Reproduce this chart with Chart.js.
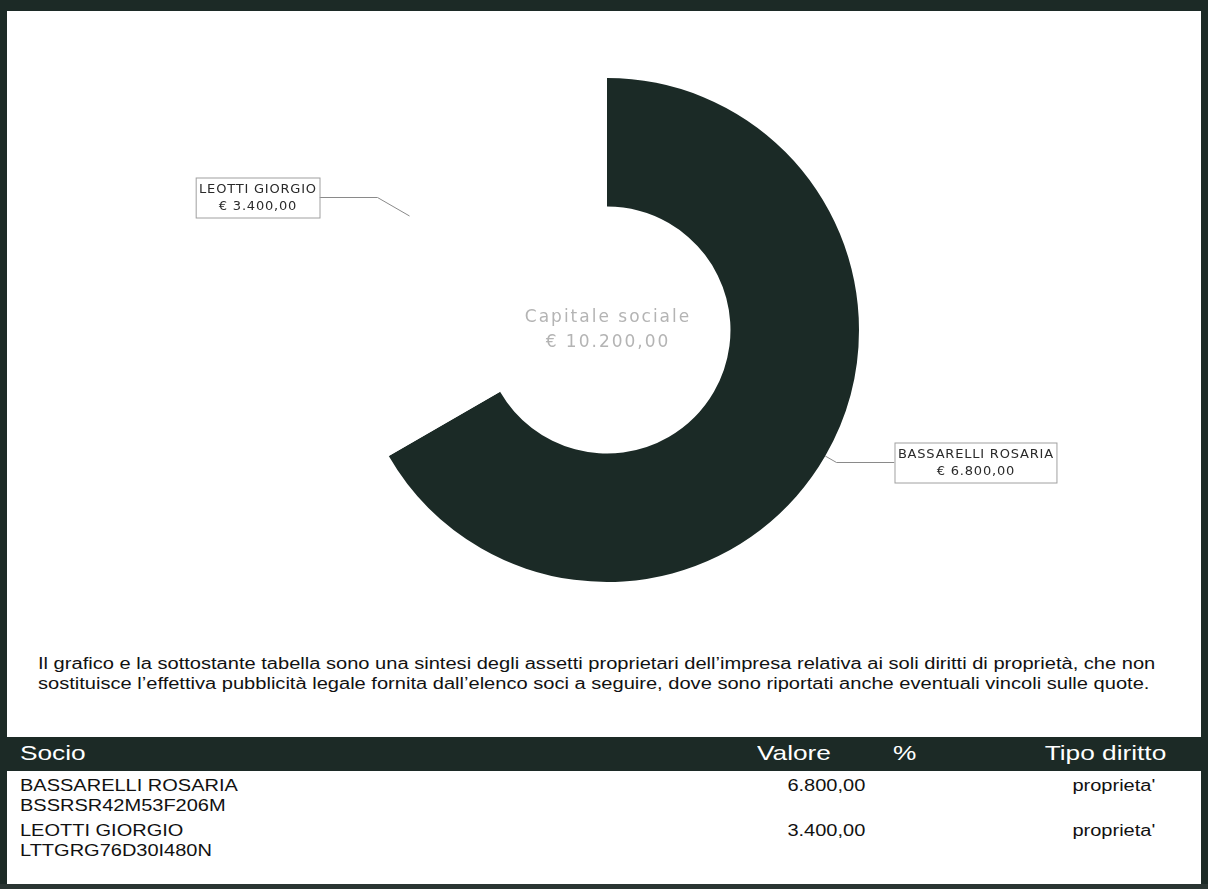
<!DOCTYPE html>
<html>
<head>
<meta charset="utf-8">
<script src="https://cdn.jsdelivr.net/npm/chart.js@4.4.0/dist/chart.umd.min.js"></script>
<style>
  html, body { margin: 0; padding: 0; background: #fff; }
  #page { position: relative; width: 1208px; height: 889px; overflow: hidden; font-family: "Liberation Sans", Arial, sans-serif; }
  #topbar { position: absolute; left: 0; top: 0; width: 1208px; height: 11px; background: #1c2a26; }
  #lborder { position: absolute; left: 0; top: 0; width: 7px; height: 889px; background: #1c2a26; }
  #rborder { position: absolute; right: 0; top: 0; width: 7px; height: 889px; background: #1c2a26; }
  #bborder { position: absolute; left: 0; top: 884px; width: 1208px; height: 5px; background: #2a3532; }
  #chartBox { position: absolute; left: 0; top: 0; width: 1208px; height: 640px; }
  #note { position: absolute; left: 38px; top: 654px; font-size: 16px; line-height: 20px; color: #111; white-space: nowrap; transform: scaleX(1.255); transform-origin: left center; }
  #thead { position: absolute; left: 7px; top: 737px; width: 1194px; height: 34px; background: #1c2a26; color: #fff; font-size: 21px; }
  #thead span, .row span { position: absolute; white-space: nowrap; }
  .sl { transform: scaleX(1.25); transform-origin: left center; }
  .sr { transform: scaleX(1.25); transform-origin: right center; }
  .row { position: absolute; left: 7px; width: 1194px; height: 45px; font-size: 16px; line-height: 20px; color: #111; }
</style>
</head>
<body>
<div id="page">
  <div id="chartBox"><canvas id="myChart"></canvas></div>
  <div id="topbar"></div>
  <div id="lborder"></div>
  <div id="rborder"></div>
  <div id="bborder"></div>
  <div id="note">Il grafico e la sottostante tabella sono una sintesi degli assetti proprietari dell’impresa relativa ai soli diritti di proprietà, che non<br>sostituisce l’effettiva pubblicità legale fornita dall’elenco soci a seguire, dove sono riportati anche eventuali vincoli sulle quote.</div>
  <div id="thead">
    <span class="sl" style="left:13px;top:4px">Socio</span>
    <span class="sl" style="left:750px;top:4px">Valore</span>
    <span class="sl" style="left:886px;top:4px">%</span>
    <span class="sr" style="right:35px;top:4px">Tipo diritto</span>
  </div>
  <div id="rows"></div>
</div>
<script>
var soci = ['BASSARELLI ROSARIA', 'LEOTTI GIORGIO'];
var codici = ['BSSRSR42M53F206M', 'LTTGRG76D30I480N'];
var valori = [6800, 3400];
var tipoDiritto = ["proprieta'", "proprieta'"];
var totale = 10200;

function euro(v) {
  return v.toLocaleString('it-IT', { minimumFractionDigits: 2, maximumFractionDigits: 2, useGrouping: 'always' });
}

// table rows
var rowsHtml = '';
for (var i = 0; i < soci.length; i++) {
  var rowTop = 776 + i * 45;
  rowsHtml += '<div class="row" style="top:' + rowTop + 'px">' +
    '<span class="sl" style="left:13px;top:0">' + soci[i] + '<br>' + codici[i] + '</span>' +
    '<span class="sr" style="right:336px;top:0">' + euro(valori[i]) + '</span>' +
    '<span class="sr" style="right:46px;top:0">' + tipoDiritto[i] + '</span>' +
    '</div>';
}
document.getElementById('rows').innerHTML = rowsHtml;

var calloutPlugin = {
  id: 'callouts',
  afterDraw: function(chart, args, opts) {
    var ctx = chart.ctx;
    var meta = chart.getDatasetMeta(0);
    ctx.save();
    meta.data.forEach(function(arc, i) {
      var p = arc.getProps(['x', 'y', 'startAngle', 'endAngle', 'outerRadius']);
      var mid = (p.startAngle + p.endAngle) / 2;
      var cx = Math.cos(mid), cy = Math.sin(mid);
      var r0 = p.outerRadius - opts.startInset[i];
      var r1 = p.outerRadius + 13;
      var x0 = p.x + cx * r0, y0 = p.y + cy * r0;
      var x1 = p.x + cx * r1, y1 = p.y + cy * r1;
      var dir = cx >= 0 ? 1 : -1;
      var x2 = x1 + dir * 58;
      ctx.strokeStyle = '#8a8a8a';
      ctx.lineWidth = 1;
      ctx.beginPath();
      ctx.moveTo(x0, y0);
      ctx.lineTo(x1, y1);
      ctx.lineTo(x2, y1);
      ctx.stroke();
      // box
      ctx.font = '13px "DejaVu Sans"';
      ctx.letterSpacing = '0.8px';
      var l1 = chart.data.labels[i];
      var l2 = '€ ' + euro(chart.data.datasets[0].data[i]);
      var w = Math.max(ctx.measureText(l1).width, ctx.measureText(l2).width) + 6;
      var h = 40;
      var bx = dir > 0 ? x2 : x2 - w;
      var by = y1 - h / 2;
      ctx.fillStyle = '#fff';
      ctx.fillRect(bx, by, w, h);
      ctx.strokeStyle = '#a0a0a0';
      ctx.strokeRect(bx + 0.5, by + 0.5, w, h);
      ctx.fillStyle = '#2a2a2a';
      ctx.textAlign = 'center';
      ctx.textBaseline = 'middle';
      ctx.fillText(l1, bx + w / 2 + 0.4, y1 - 8);
      ctx.fillText(l2, bx + w / 2 + 0.4, y1 + 9);
    });
    // center text
    var a = meta.data[0];
    ctx.font = '17px "DejaVu Sans"';
    ctx.letterSpacing = '2px';
    ctx.fillStyle = '#b4b4b4';
    ctx.textAlign = 'center';
    ctx.textBaseline = 'middle';
    ctx.fillText('Capitale sociale', a.x + 1, a.y - 12);
    ctx.fillText('€ ' + euro(totale), a.x + 1, a.y + 13);
    ctx.restore();
  }
};

var ctx = document.getElementById('myChart').getContext('2d');
var myChart = new Chart(ctx, {
  type: 'doughnut',
  data: {
    labels: soci,
    datasets: [{
      data: valori,
      backgroundColor: ['#1b2a26', '#ffffff'],
      borderWidth: 0
    }]
  },
  options: {
    responsive: true,
    maintainAspectRatio: false,
    animation: false,
    radius: 252,
    cutout: '49%',
    layout: { padding: { left: 6, right: 0, top: 20, bottom: 0 } },
    plugins: {
      legend: { display: false },
      tooltip: { enabled: false },
      callouts: { startInset: [0, 24] }
    }
  },
  plugins: [calloutPlugin]
});
</script>
</body>
</html>
